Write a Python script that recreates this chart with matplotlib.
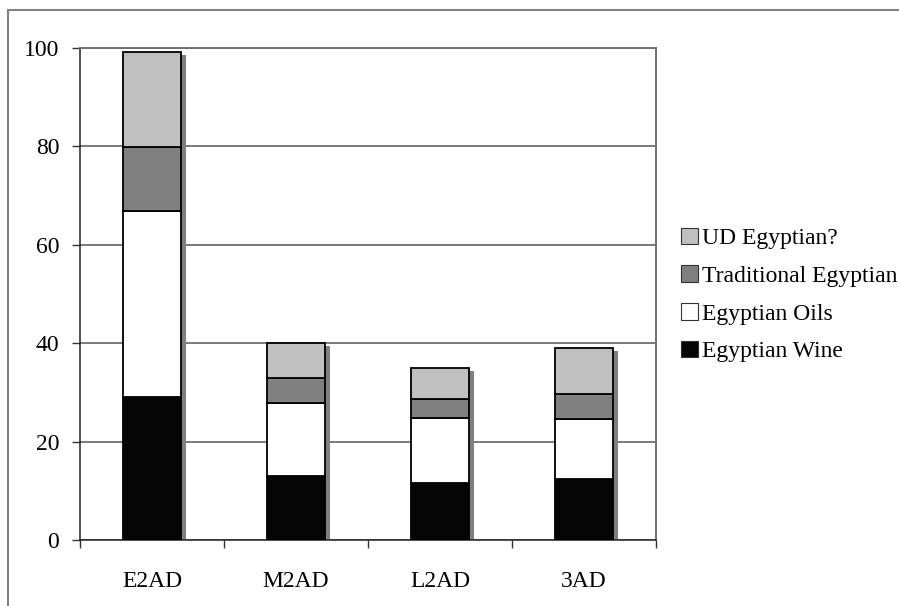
import numpy as np
import matplotlib.pyplot as plt
from matplotlib.patches import Rectangle

periods = ["E2AD", "M2AD", "L2AD", "3AD"]
wine = [29.1, 13.1, 11.6, 12.5]
oils = [37.7, 14.8, 13.1, 12.1]
traditional = [13.0, 5.0, 4.0, 5.1]
ud_egyptian = [19.3, 7.1, 6.2, 9.4]

series = [
    ("Egyptian Wine", wine, "#050505"),
    ("Egyptian Oils", oils, "#ffffff"),
    ("Traditional Egyptian", traditional, "#808080"),
    ("UD Egyptian?", ud_egyptian, "#c0c0c0"),
]

plt.rcParams["font.family"] = ["Liberation Serif", "DejaVu Serif"]
plt.rcParams["font.size"] = 17

fig = plt.figure(figsize=(8.99, 6.06), dpi=100)
ax = fig.add_axes([80 / 899, 66 / 606, 576 / 899, 492 / 606])

x = np.arange(len(periods))
width = 0.405
totals = np.sum([s[1] for s in series], axis=0)

# drop shadow behind each stack
ax.bar(x + 0.035, totals - 0.6, width, color="#808080", linewidth=0, zorder=2)

bottom = np.zeros(len(periods))
handles = []
for name, vals, col in series:
    b = ax.bar(x, vals, width, bottom=bottom, color=col, edgecolor="#000000",
               linewidth=1.3, zorder=3, label=name)
    handles.append(b)
    bottom += np.array(vals)

ax.set_xlim(-0.5, len(periods) - 0.5)
ax.set_ylim(0, 100)
ax.set_yticks(range(0, 101, 20))
ax.yaxis.grid(True, color="#555555", linewidth=1.1, zorder=0)
ax.set_axisbelow(True)

ax.set_xticks(x)
ax.set_xticklabels(periods)
ax.set_xticks(np.arange(-0.5, len(periods)), minor=True)
ax.tick_params(axis="x", which="major", length=0, pad=22)
ax.tick_params(axis="x", which="minor", length=6, width=1, direction="out", color="#333333")
ax.tick_params(axis="y", length=6, width=1, direction="out", color="#333333", pad=9)

for side in ["left", "bottom"]:
    ax.spines[side].set_color("#222222")
    ax.spines[side].set_linewidth(1.1)
for side in ["right", "top"]:
    ax.spines[side].set_color("#707070")
    ax.spines[side].set_linewidth(1.4)

# outer chart frame
fig.patches.append(Rectangle((8 / 899, -0.1), 1.2, 1.1 - 10 / 606,
                             transform=fig.transFigure, fill=False,
                             edgecolor="#808080", linewidth=1.5))

leg = fig.legend(handles[::-1], [s[0] for s in series][::-1],
                 loc="center left", bbox_to_anchor=(660 / 899, 1 - 295 / 606),
                 frameon=False, handlelength=0.7, handleheight=0.7,
                 handletextpad=0.2, labelspacing=0.68, fontsize=17)
for p in leg.get_patches():
    p.set_linewidth(0.8)
    p.set_edgecolor("#333333")

fig.savefig("out.png", dpi=100)
